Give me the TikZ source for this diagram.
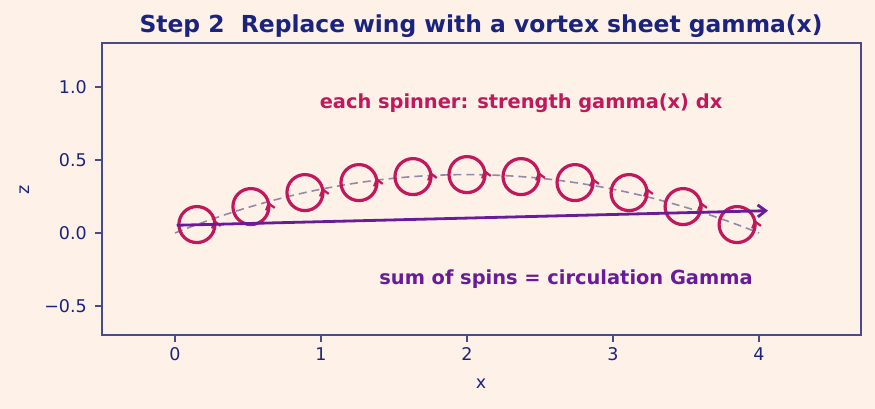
\documentclass[tikz,border=0pt]{standalone}
\usepackage{fontspec}
\setmainfont{DejaVu Sans}
\usepackage{tikz}
\usetikzlibrary{arrows.meta}

\definecolor{bgpeach}{HTML}{FDF1E8}
\definecolor{frameblue}{HTML}{4A4A8A}
\definecolor{navy}{HTML}{1A237E}
\definecolor{crimson}{HTML}{C2185B}
\definecolor{grape}{HTML}{6A1B9A}
\definecolor{camber}{HTML}{9488AA}

\begin{document}
\begin{tikzpicture}[x=146pt,y=146pt]
\tikzstyle{spinner}=[circle,draw=crimson,line width=3.2pt,minimum size=36pt,inner sep=0pt,outer sep=0pt]
\tikzstyle{spintip}=[crimson,line width=2.2pt,-{Straight Barb[length=6pt,width=9pt]}]
\tikzstyle{ticklab}=[text=navy,font=\fontsize{17.5}{19}\selectfont]
\tikzstyle{note}=[font=\fontsize{19.4}{22}\selectfont\bfseries]
\useasboundingbox[fill=bgpeach] (-1.19863,-1.20548) rectangle (4.79452,1.59589);
% axes box and ticks
\draw[frameblue,line width=1.5pt] (-0.5,-0.7) rectangle (4.7,1.3);
\draw[frameblue,line width=1.5pt] (0,-0.7) -- ++(0,-7pt);
\draw[frameblue,line width=1.5pt] (1,-0.7) -- ++(0,-7pt);
\draw[frameblue,line width=1.5pt] (2,-0.7) -- ++(0,-7pt);
\draw[frameblue,line width=1.5pt] (3,-0.7) -- ++(0,-7pt);
\draw[frameblue,line width=1.5pt] (4,-0.7) -- ++(0,-7pt);
\draw[frameblue,line width=1.5pt] (-0.5,-0.5) -- ++(-7pt,0);
\draw[frameblue,line width=1.5pt] (-0.5,0) -- ++(-7pt,0);
\draw[frameblue,line width=1.5pt] (-0.5,0.5) -- ++(-7pt,0);
\draw[frameblue,line width=1.5pt] (-0.5,1) -- ++(-7pt,0);
\node [ticklab] (tx0) at (0,-0.829) {0};
\node [ticklab] (tx1) at (1,-0.829) {1};
\node [ticklab] (tx2) at (2,-0.829) {2};
\node [ticklab] (tx3) at (3,-0.829) {3};
\node [ticklab] (tx4) at (4,-0.829) {4};
\node [ticklab,anchor=east,inner sep=0pt] (tz1) at (-0.603,-0.5) {−0.5};
\node [ticklab,anchor=east,inner sep=0pt] (tz2) at (-0.603,0) {0.0};
\node [ticklab,anchor=east,inner sep=0pt] (tz3) at (-0.603,0.5) {0.5};
\node [ticklab,anchor=east,inner sep=0pt] (tz4) at (-0.603,1) {1.0};
\node [ticklab] (xlab) at (2.096,-1.034) {x};
\node [ticklab,rotate=90] (zlab) at (-1.027,0.298) {z};
\node [text=navy,font=\fontsize{23.4}{26}\selectfont\bfseries] (title) at (2.096,1.42) {Step 2\ \ Replace wing with a vortex sheet gamma(x)};
% camber line
\draw[camber,line width=1.6pt,dash pattern=on 8pt off 5pt] plot[domain=0:4,samples=60] (\x,{0.1*\x*(4-\x)});
% spinners
\node [spinner] (s1) at (0.15,0.05775) {};
\node [spinner] (s2) at (0.52,0.18096) {};
\node [spinner] (s3) at (0.89,0.27679) {};
\node [spinner] (s4) at (1.26,0.34524) {};
\node [spinner] (s5) at (1.63,0.38631) {};
\node [spinner] (s6) at (2.00,0.40000) {};
\node [spinner] (s7) at (2.37,0.38631) {};
\node [spinner] (s8) at (2.74,0.34524) {};
\node [spinner] (s9) at (3.11,0.27679) {};
\node [spinner] (s10) at (3.48,0.18096) {};
\node [spinner] (s11) at (3.85,0.05775) {};
\draw[spintip] (s1.-20) arc[start angle=-20,end angle=16,radius=18pt];
\draw[spintip] (s2.-20) arc[start angle=-20,end angle=16,radius=18pt];
\draw[spintip] (s3.-20) arc[start angle=-20,end angle=16,radius=18pt];
\draw[spintip] (s4.-20) arc[start angle=-20,end angle=16,radius=18pt];
\draw[spintip] (s5.-20) arc[start angle=-20,end angle=16,radius=18pt];
\draw[spintip] (s6.-20) arc[start angle=-20,end angle=16,radius=18pt];
\draw[spintip] (s7.-20) arc[start angle=-20,end angle=16,radius=18pt];
\draw[spintip] (s8.-20) arc[start angle=-20,end angle=16,radius=18pt];
\draw[spintip] (s9.-20) arc[start angle=-20,end angle=16,radius=18pt];
\draw[spintip] (s10.-20) arc[start angle=-20,end angle=16,radius=18pt];
\draw[spintip] (s11.-20) arc[start angle=-20,end angle=16,radius=18pt];
% total circulation
\coordinate (lead) at (0.012,0.053);
\coordinate (trail) at (4.062,0.153);
\draw[grape,line width=2.8pt,-{Straight Barb[length=8pt,width=12pt]}] (lead) -- (trail);
\node [note,text=crimson] (each) at (2.37,0.89) {each spinner: strength gamma(x) dx};
\node [note,text=grape] (sum) at (2.678,-0.315) {sum of spins = circulation Gamma};
\end{tikzpicture}
\end{document}
